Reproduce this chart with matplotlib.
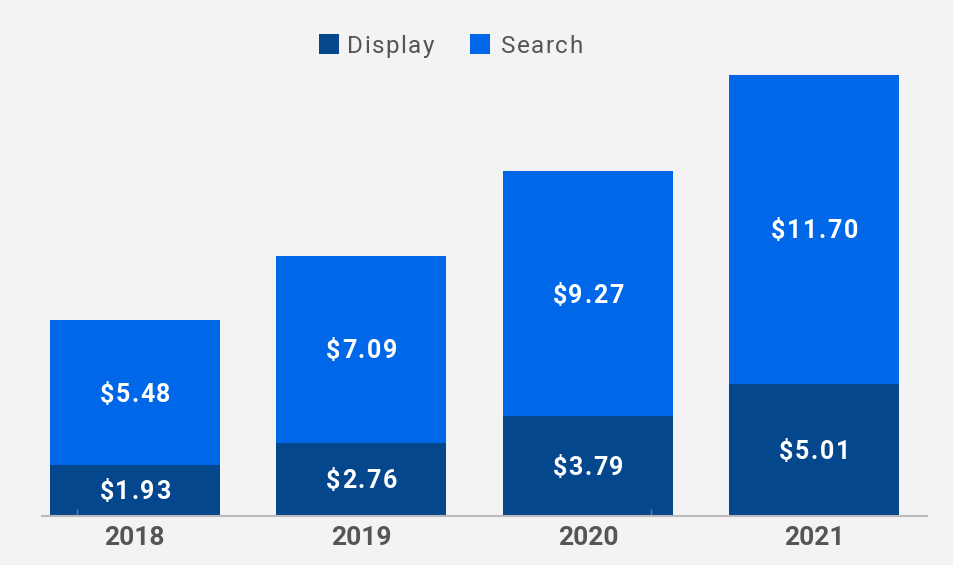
import matplotlib
matplotlib.use("Agg")
import matplotlib.pyplot as plt
from matplotlib import font_manager
from matplotlib.font_manager import FontProperties
from matplotlib.patches import Rectangle
import numpy as np

years = ["2018", "2019", "2020", "2021"]
display = [1.93, 2.76, 3.79, 5.01]
search = [5.48, 7.09, 9.27, 11.70]
series_names = ["Display", "Search"]
colors = ["#04478c", "#0068e8"]

plt.rcParams['font.family'] = ['Roboto', 'DejaVu Sans']
DPI = 100


def advances(s, fp, size_pt):
    """Horizontal advance of each character, in pixels."""
    size_px = size_pt * DPI / 72.0
    try:
        from matplotlib.ft2font import FT2Font
        f = FT2Font(font_manager.findfont(fp))
        f.set_size(size_px, 72)
        return [f.load_char(ord(c)).linearHoriAdvance / 65536.0 for c in s]
    except Exception:
        return [0.56 * size_px if c not in ".," else 0.27 * size_px for c in s]


def spaced_text(ax, x, y, s, size, weight, color, spacing, coords,
                ha="center", vcenter=True, family="Roboto"):
    fp = FontProperties(family=family, weight=weight, size=size)
    adv = advances(s, fp, size)
    total = sum(adv) + spacing * (len(s) - 1)
    start = -total / 2 if ha == "center" else 0.0
    cap = 0.711 * size * DPI / 72.0
    dy = -cap / 2 if vcenter else 0.0
    pos = start
    for c, a in zip(s, adv):
        ax.annotate(c, xy=(x, y), xycoords=coords,
                    xytext=(pos + a / 2, dy), textcoords="offset pixels",
                    ha="center", va="baseline", fontproperties=fp, color=color,
                    annotation_clip=False)
        pos += a + spacing


fig = plt.figure(figsize=(9.54, 5.65), dpi=DPI, facecolor="#f3f3f3")
W, H = 954, 565
ax = fig.add_axes([42 / W, 1 - 516 / H, (927 - 42) / W, (516 - 60) / H])
ax.set_facecolor("#f3f3f3")

x = np.arange(len(years))
bw = 0.75
ax.bar(x, display, bw, color=colors[0], linewidth=0)
ax.bar(x, search, bw, bottom=display, color=colors[1], linewidth=0)

for i in range(len(years)):
    spaced_text(ax, x[i], display[i] / 2, f"${display[i]:.2f}", 18, "bold", "white", 1.6, "data")
    spaced_text(ax, x[i], display[i] + search[i] / 2, f"${search[i]:.2f}", 18, "bold", "white", 1.6, "data")

ax.set_xlim(-0.41, 3.497)
ax.set_ylim(0, (516 - 60) / 26.39)
ax.set_xticks(x)
ax.set_xticklabels(years, fontsize=19, fontweight="bold", color="#555555")
ax.tick_params(axis="x", length=0, pad=7)
ax.set_xticks([-0.256, 2.278], minor=True)
ax.tick_params(axis="x", which="minor", length=5, direction="in", color="#777777", width=1)
ax.set_yticks([])
for s in ["top", "right", "left"]:
    ax.spines[s].set_visible(False)
ax.spines["bottom"].set_color("#bbbbbb")
ax.spines["bottom"].set_linewidth(1.5)

# legend
sq_x = [319, 470]
txt_x = [347, 501]
for name, c, sx, tx in zip(series_names, colors, sq_x, txt_x):
    fig.patches.append(Rectangle((sx / W, 1 - 54 / H), 20 / W, 20 / H, transform=fig.transFigure,
                                 facecolor=c, edgecolor=c, linewidth=0))
    spaced_text(ax, tx / W, 1 - 53 / H, name, 17.5, "normal", "#555555", 1.4,
                "figure fraction", ha="left", vcenter=False)

fig.savefig("out.png", dpi=DPI, facecolor=fig.get_facecolor())
